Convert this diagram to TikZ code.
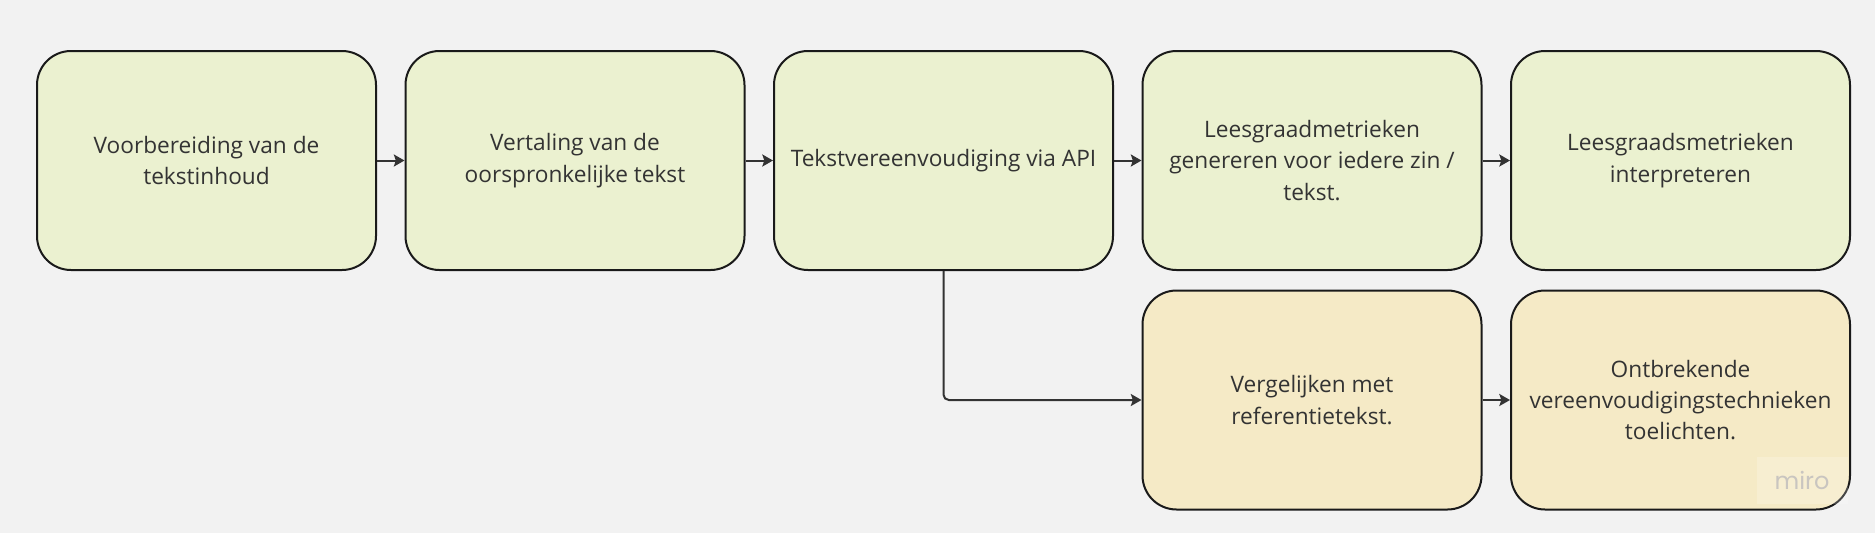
\documentclass[tikz,border=0pt]{standalone}
\usepackage{fontspec}
\setmainfont{Open Sans}
\newfontfamily\mirofont{Poppins}
\usepackage{tikz}
\usetikzlibrary{arrows.meta}
\definecolor{bgcol}{HTML}{F2F2F2}
\definecolor{stepgreen}{HTML}{EBF1D0}
\definecolor{stepyellow}{HTML}{F5EAC6}
\definecolor{edgecol}{HTML}{1A1A1A}
\definecolor{txtcol}{HTML}{333333}
\definecolor{markcol}{HTML}{C9C5C0}
\tikzset{every picture/.style={line width=0.75pt}}
\tikzset{
  stepbox/.style={draw=edgecol, line width=1.5pt, rounded corners=25.5pt,
    minimum width=254.25pt, minimum height=164.25pt, align=center,
    text=txtcol, font=\fontsize{17}{23.5}\selectfont, inner sep=0pt},
  flow/.style={draw=txtcol, line width=1.5pt, -{Stealth[length=8pt,width=9pt,inset=1.5pt]}},
}

\begin{document}
\begin{tikzpicture}[x=0.75pt,y=0.75pt,yscale=-1,xscale=1]
\fill[bgcol] (0,0) rectangle (1875,533);
\useasboundingbox (0,0) rectangle (1875,533);
% bovenste rij
\node[stepbox, fill=stepgreen] (prep) at (206.5,160.5) {Voorbereiding van de\\tekstinhoud};
\node[stepbox, fill=stepgreen] (vertaling) at (575,160.5) {Vertaling van de\\oorspronkelijke tekst};
\node[stepbox, fill=stepgreen] (api) at (943.5,160.5) {Tekstvereenvoudiging via API};
\node[stepbox, fill=stepgreen] (metriek) at (1312,160.5) {Leesgraadmetrieken\\genereren voor iedere zin /\\tekst.};
\node[stepbox, fill=stepgreen] (interpret) at (1680.5,160.5) {Leesgraadsmetrieken\\interpreteren};
% onderste rij
\node[stepbox, fill=stepyellow] (vergelijk) at (1312,400) {Vergelijken met\\referentietekst.};
\node[stepbox, fill=stepyellow] (toelicht) at (1680.5,400) {Ontbrekende\\vereenvoudigingstechnieken\\toelichten.};
% pijlen
\draw[flow] (prep) -- (vertaling);
\draw[flow] (vertaling) -- (api);
\draw[flow] (api) -- (metriek);
\draw[flow] (metriek) -- (interpret);
\draw[flow] (vergelijk) -- (toelicht);
\draw[flow, rounded corners=4pt] (api.south) |- (vergelijk.west);
% watermerk
\fill[white, opacity=0.2] (1757,457) rectangle (1848,504);
\node[text=markcol, font=\mirofont\fontsize{18}{18}\selectfont, inner sep=0pt] (miro) at (1802,480) {miro};
\end{tikzpicture}
\end{document}
